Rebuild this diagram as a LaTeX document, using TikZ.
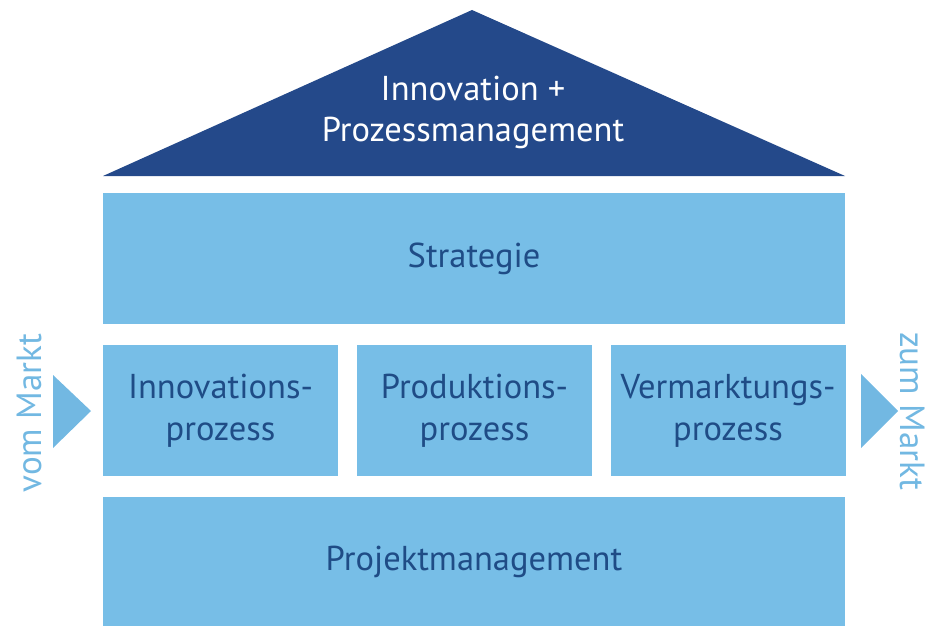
\documentclass[tikz,border=0pt]{standalone}
\usepackage{fontspec}
\setmainfont{PT Sans}
\usepackage{tikz}
\usetikzlibrary{arrows,shapes}
\definecolor{roofblue}{HTML}{24498A}
\definecolor{boxblue}{HTML}{77BEE7}
\definecolor{textblue}{HTML}{1F4C86}
\definecolor{sideblue}{HTML}{72B8E2}
\tikzstyle{block}=[rectangle,fill=boxblue,text=textblue,inner sep=0pt,align=center,font=\fontsize{34.5}{42}\selectfont]
\tikzstyle{wide}=[block,minimum width=742pt,minimum height=131pt]
\tikzstyle{pillar}=[block,minimum width=235pt,minimum height=131pt]
\tikzstyle{side}=[text=sideblue,font=\fontsize{35}{40}\selectfont,inner sep=0pt]
\tikzstyle{flow}=[fill=sideblue]

\begin{document}
\begin{tikzpicture}[x=1pt,y=-1pt]
    \useasboundingbox (0,0) rectangle (928,626);
    % The roof
    \coordinate (roofL) at (103,176);
    \coordinate (roofR) at (845,176);
    \coordinate (roofT) at (472,10);
    \fill[roofblue] (roofL) -- (roofT) -- (roofR) -- cycle;
    \node[text=white,align=center,font=\fontsize{34.5}{41}\selectfont] (roof) at (473,112) {Innovation +\\Prozessmanagement};

    % Then the wide blocks and the pillars
    \node[wide] (Strategie) at (474,258.5) {Strategie};
    \node[wide,minimum height=129pt] (Projekt) at (474,561.5) {Projektmanagement};
    \foreach \pos/\name/\text in {{(220.5,410.5)/Innovation/Innovations-\\prozess}, {(474.5,410.5)/Produktion/Produktions-\\prozess}, {(728,410.5)/Vermarktung/Vermarktungs-\\prozess}}
        \node[pillar] (\name) at \pos {\text};

    % Market in and out
    \node[side,rotate=90] (vom) at (29,413) {vom Markt};
    \node[side,rotate=-90] (zum) at (913,411) {zum Markt};
    \coordinate (inA) at (53,375);
    \coordinate (inB) at (53,448);
    \coordinate (inC) at (91,411);
    \coordinate (outA) at (861,374);
    \coordinate (outB) at (861,448);
    \coordinate (outC) at (898,411);
    \path[flow] (inA) -- (inC) -- (inB) -- cycle;
    \path[flow] (outA) -- (outC) -- (outB) -- cycle;
\end{tikzpicture}
\end{document}
